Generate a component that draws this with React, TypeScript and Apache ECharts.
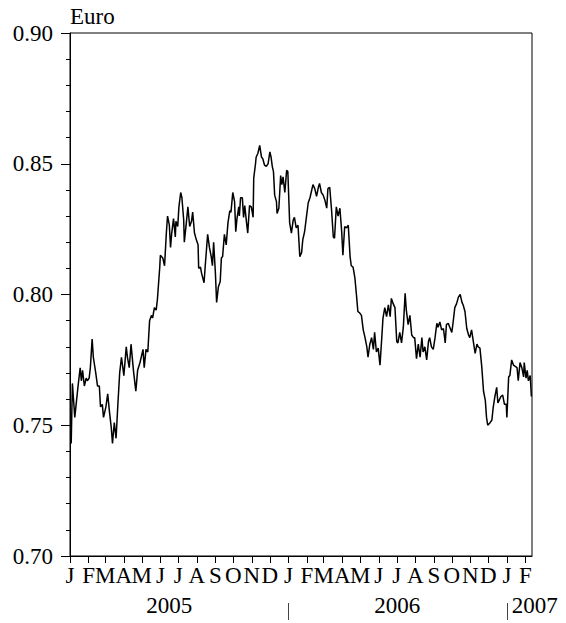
import React, { useEffect, useRef } from "react";
import * as echarts from "echarts";

// Month initials, one per month from January 2005 to February 2007
const monthLetters = [
  "J", "F", "M", "A", "M", "J", "J", "A", "S", "O", "N", "D",
  "J", "F", "M", "A", "M", "J", "J", "A", "S", "O", "N", "D",
  "J", "F",
];
const years = ["2005", "2006", "2007"];
const yTicks = [0.7, 0.75, 0.8, 0.85, 0.9];

// Days since 1 January 2005
const dayOffsets = [
  2, 4, 8, 13, 17, 19, 21, 24, 27, 29, 32, 34, 37, 39, 43, 46, 49, 51, 54, 56,
  60, 63, 66, 69, 71, 74, 77, 80, 83, 86, 90, 94, 96, 99, 102, 106, 110, 113, 117, 122,
  124, 127, 130, 133, 136, 138, 141, 144, 146, 150, 151, 155, 158, 161, 163, 166, 168, 170, 173, 176,
  177, 180, 182, 185, 187, 190, 191, 194, 197, 200, 203, 205, 208, 211, 214, 215, 218, 220, 224, 226,
  230, 233, 236, 238, 240, 243, 245, 248, 251, 253, 255, 258, 261, 264, 267, 269, 272, 275, 277, 279,
  282, 283, 285, 288, 290, 292, 295, 297, 300, 303, 306, 307, 310, 311, 314, 317, 320, 322, 325, 328,
  331, 334, 336, 338, 340, 342, 345, 346, 349, 352, 354, 356, 359, 362, 364, 367, 370, 373, 375, 378,
  381, 384, 387, 389, 392, 395, 398, 401, 403, 406, 409, 412, 415, 417, 420, 423, 426, 429, 431, 434,
  437, 440, 442, 445, 448, 451, 454, 456, 459, 462, 465, 468, 470, 473, 476, 479, 481, 484, 487, 490,
  493, 496, 498, 501, 504, 507, 509, 512, 515, 518, 521, 523, 526, 529, 532, 535, 537, 540, 543, 546,
  548, 551, 554, 557, 560, 562, 565, 568, 571, 574, 576, 579, 582, 585, 588, 590, 593, 596, 599, 601,
  604, 607, 610, 613, 615, 618, 621, 624, 627, 629, 632, 638, 640, 643, 646, 649, 652, 655, 657, 660,
  663, 666, 668, 671, 674, 677, 680, 682, 685, 688, 691, 694, 696, 698, 702, 705, 707, 710, 713, 715,
  717, 720, 723, 726, 729, 730, 733, 735, 738, 741, 744, 747, 749, 752, 755, 758, 759, 762, 764, 766,
  769, 771,
];

// Price of one US dollar in euro
const values = [
  0.743, 0.766, 0.753, 0.764, 0.772, 0.767, 0.771, 0.765, 0.768, 0.767, 0.768, 0.772, 0.783, 0.776, 0.77, 0.765, 0.765, 0.757, 0.758, 0.753,
  0.757, 0.762, 0.755, 0.749, 0.743, 0.751, 0.745, 0.758, 0.77, 0.776, 0.769, 0.78, 0.776, 0.772, 0.781, 0.771, 0.763, 0.771, 0.774, 0.779,
  0.772, 0.779, 0.778, 0.79, 0.792, 0.791, 0.795, 0.794, 0.798, 0.8105, 0.815, 0.814, 0.811, 0.8235, 0.83, 0.8265, 0.818, 0.8235, 0.829, 0.822,
  0.828, 0.826, 0.8335, 0.839, 0.837, 0.8285, 0.82, 0.8265, 0.8335, 0.826, 0.828, 0.8315, 0.8235, 0.821, 0.819, 0.81, 0.8105, 0.808, 0.8045, 0.811,
  0.823, 0.818, 0.8145, 0.811, 0.82, 0.808, 0.797, 0.803, 0.805, 0.814, 0.8145, 0.823, 0.819, 0.8275, 0.832, 0.8315, 0.839, 0.8355, 0.824, 0.829,
  0.8335, 0.83, 0.837, 0.837, 0.8295, 0.834, 0.8275, 0.8235, 0.834, 0.8335, 0.8295, 0.8445, 0.85, 0.8525, 0.854, 0.857, 0.8525, 0.852, 0.8495, 0.849,
  0.85, 0.8545, 0.8525, 0.849, 0.847, 0.838, 0.8355, 0.831, 0.833, 0.8455, 0.842, 0.845, 0.839, 0.8475, 0.847, 0.8275, 0.8235, 0.8285, 0.8295, 0.8255,
  0.8265, 0.8145, 0.816, 0.821, 0.824, 0.8295, 0.835, 0.837, 0.839, 0.842, 0.8405, 0.8375, 0.841, 0.8425, 0.839, 0.838, 0.836, 0.833, 0.8405, 0.841,
  0.8325, 0.822, 0.8215, 0.8335, 0.83, 0.833, 0.824, 0.815, 0.826, 0.8255, 0.8265, 0.8145, 0.811, 0.8105, 0.8065, 0.799, 0.7935, 0.793, 0.792, 0.7865,
  0.7835, 0.78, 0.776, 0.781, 0.7835, 0.779, 0.7855, 0.778, 0.7795, 0.773, 0.7835, 0.791, 0.795, 0.7915, 0.796, 0.7915, 0.7985, 0.7965, 0.795, 0.782,
  0.7815, 0.7855, 0.7815, 0.7875, 0.8005, 0.794, 0.7885, 0.792, 0.7845, 0.7835, 0.7835, 0.7755, 0.781, 0.776, 0.7835, 0.778, 0.78, 0.775, 0.782, 0.7835,
  0.78, 0.779, 0.7835, 0.789, 0.7875, 0.7895, 0.7865, 0.787, 0.7815, 0.7885, 0.789, 0.7855, 0.789, 0.795, 0.7965, 0.799, 0.8, 0.797, 0.796, 0.7935,
  0.787, 0.7845, 0.7835, 0.7865, 0.782, 0.7775, 0.781, 0.78, 0.7795, 0.7725, 0.763, 0.7595, 0.753, 0.75, 0.751, 0.752, 0.7565, 0.761, 0.7645, 0.7585,
  0.7595, 0.761, 0.7615, 0.758, 0.758, 0.753, 0.7685, 0.769, 0.775, 0.773, 0.7725, 0.772, 0.767, 0.774, 0.772, 0.7685, 0.774, 0.768, 0.771, 0.767,
  0.769, 0.761,
];

const DAY = 86400000;
const ORIGIN = Date.UTC(2005, 0, 1);
const LAST_DAY = (Date.UTC(2007, 1, 12) - ORIGIN) / DAY;

export default function App() {
  const ref = useRef<HTMLDivElement>(null);

  useEffect(() => {
    if (!ref.current) return;
    const chart = echarts.init(ref.current, undefined, { renderer: "svg" });

    const monthStarts = monthLetters.map((_, i) => (Date.UTC(2005, i, 1) - ORIGIN) / DAY);
    const yearStarts = years.map((y) => (Date.UTC(Number(y), 0, 1) - ORIGIN) / DAY);
    // year label anchors: 2005 and 2006 under their year, 2007 after its separator
    const yearLabelPos = [166, 547, yearStarts[2]];
    const font = "Liberation Serif";
    const fs = 23;
    const data = dayOffsets.map((d, i) => [d, values[i]]);

    chart.setOption({
      animation: false,
      backgroundColor: "#fff",
      grid: {
        left: 70,
        right: 34,
        top: 33,
        bottom: 67,
        show: true,
        borderColor: "#000",
        borderWidth: 1,
      },
      xAxis: [
        {
          type: "value",
          min: 0,
          max: LAST_DAY,
          axisLine: { show: true, lineStyle: { color: "#000", width: 1 } },
          axisTick: {
            show: true,
            customValues: monthStarts,
            length: 7,
            lineStyle: { color: "#000", width: 1 },
          },
          axisLabel: {
            customValues: monthStarts,
            formatter: (v: number) => {
              const idx = monthStarts.indexOf(v);
              return idx >= 0 ? monthLetters[idx] : "";
            },
            fontFamily: font,
            fontSize: fs,
            color: "#000",
            margin: 8,
          },
          splitLine: { show: false },
        },
        {
          type: "value",
          min: 0,
          max: LAST_DAY,
          position: "bottom",
          offset: 47,
          axisLine: { show: false },
          axisTick: {
            show: true,
            customValues: [yearStarts[1], yearStarts[2]],
            length: 17,
            lineStyle: { color: "#444", width: 1 },
          },
          axisLabel: {
            customValues: yearLabelPos,
            formatter: (v: number) => {
              const idx = yearLabelPos.indexOf(v);
              if (idx === 2) return "{p|" + years[2] + "}";
              return idx >= 0 ? years[idx] : "";
            },
            rich: {
              p: { padding: [0, 0, 0, 56], fontFamily: font, fontSize: fs, color: "#000" },
            },
            fontFamily: font,
            fontSize: fs,
            color: "#000",
            margin: -9,
          },
          splitLine: { show: false },
        },
      ],
      yAxis: {
        type: "value",
        min: yTicks[0],
        max: yTicks[yTicks.length - 1],
        interval: 0.05,
        name: "Euro",
        nameLocation: "end",
        nameGap: 5,
        nameTextStyle: {
          fontFamily: font,
          fontSize: fs,
          color: "#000",
          align: "left",
          verticalAlign: "bottom",
        },
        axisLine: { show: true, lineStyle: { color: "#000", width: 1 } },
        axisTick: { show: true, length: 9, lineStyle: { color: "#000", width: 1 } },
        minorTick: { show: true, splitNumber: 5, length: 4, lineStyle: { color: "#000", width: 1 } },
        axisLabel: {
          formatter: (v: number) => v.toFixed(2),
          fontFamily: font,
          fontSize: fs,
          color: "#000",
          margin: 17,
        },
        splitLine: { show: false },
        minorSplitLine: { show: false },
      },
      series: [
        {
          type: "line",
          xAxisIndex: 0,
          data,
          showSymbol: false,
          symbol: "none",
          lineStyle: { color: "#000", width: 1.5 },
        },
      ],
    });

    return () => chart.dispose();
  }, []);

  return (
    <div
      ref={ref}
      style={{ position: "absolute", left: 0, top: 0, width: 566, height: 623 }}
    />
  );
}
